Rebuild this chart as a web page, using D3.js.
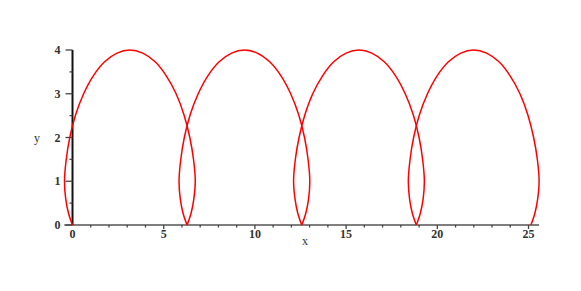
<!DOCTYPE html>
<html>
<head>
<meta charset="utf-8">
<script src="https://cdn.jsdelivr.net/npm/d3@7"></script>
<style>
  body { margin: 0; background: #fff; }
  svg { display: block; }
</style>
</head>
<body>
<svg></svg>
<script>
// points, one list per arch
const archX1 = [0, -0.22, -0.37, -0.44, -0.35, -0.15, 0.17, 0.61, 1.14, 1.76, 2.44, 3.14,
  3.85, 4.53, 5.14, 5.68, 6.11, 6.43, 6.64, 6.73, 6.65, 6.50, 6.28]
const archX2 = [6.28, 6.06, 5.91, 5.84, 5.93, 6.13, 6.45, 6.89, 7.42, 8.04, 8.72, 9.42,
  10.13, 10.81, 11.43, 11.96, 12.40, 12.72, 12.92, 13.01, 12.94, 12.79, 12.57]
const archX3 = [12.57, 12.35, 12.20, 12.12, 12.21, 12.42, 12.74, 13.17, 13.71, 14.32, 15.00, 15.71,
  16.41, 17.09, 17.71, 18.24, 18.68, 19.00, 19.20, 19.29, 19.22, 19.07, 18.85]
const archX4 = [18.85, 18.63, 18.48, 18.41, 18.50, 18.70, 19.02, 19.46, 19.99, 20.61, 21.29, 21.99,
  22.70, 23.38, 23.99, 24.53, 24.96, 25.28, 25.49, 25.58, 25.50, 25.35, 25.13]
const archY = [0, 0.27, 0.59, 1.0, 1.48, 2.0, 2.52, 3.0, 3.41, 3.73, 3.93, 4.0,
  3.93, 3.73, 3.41, 3.0, 2.52, 2.0, 1.48, 1.0, 0.59, 0.27, 0]

const xTickLabels = [0, 5, 10, 15, 20, 25]
const yTickLabels = [0, 1, 2, 3, 4]

const width = 581
const height = 291

const svg = d3.select('svg')
  .attr('width', width)
  .attr('height', height)

const x = d3.scaleLinear().domain([-0.45, 25.58]).range([64.3, 539.1])
const y = d3.scaleLinear().domain([0, 4]).range([225, 50])

const font = '"Liberation Serif", "DejaVu Serif", serif'

// x axis
svg.append('line')
  .attr('x1', x.range()[0]).attr('x2', x.range()[1])
  .attr('y1', y(0)).attr('y2', y(0))
  .attr('stroke', '#555').attr('stroke-width', 1.5)

const xMinor = d3.range(1, 26)
svg.selectAll('line.xminor')
  .data(xMinor)
  .join('line')
  .attr('class', 'xminor')
  .attr('x1', d => x(d)).attr('x2', d => x(d))
  .attr('y1', y(0)).attr('y2', d => y(0) + (d % 5 === 0 ? 4 : 2.5))
  .attr('stroke', '#444').attr('stroke-width', 1.3)

svg.selectAll('text.xlab')
  .data(xTickLabels)
  .join('text')
  .attr('class', 'xlab')
  .attr('x', d => x(d))
  .attr('y', y(0) + 13)
  .attr('text-anchor', 'middle')
  .attr('font-family', font)
  .attr('font-size', 12)
  .attr('font-weight', 'bold')
  .attr('fill', '#333')
  .text(d => d)

svg.append('text')
  .attr('x', 305).attr('y', 245)
  .attr('text-anchor', 'middle')
  .attr('font-family', font)
  .attr('font-size', 12)
  .attr('fill', '#333')
  .text('x')

// y axis
svg.append('line')
  .attr('x1', x(0)).attr('x2', x(0))
  .attr('y1', y(0)).attr('y2', y(4))
  .attr('stroke', '#111').attr('stroke-width', 2)

svg.selectAll('line.ymajor')
  .data(yTickLabels)
  .join('line')
  .attr('class', 'ymajor')
  .attr('x1', x(0) - 7).attr('x2', x(0))
  .attr('y1', d => y(d)).attr('y2', d => y(d))
  .attr('stroke', '#444').attr('stroke-width', 1.3)

svg.selectAll('line.yminor')
  .data([0.5, 1.5, 2.5, 3.5])
  .join('line')
  .attr('class', 'yminor')
  .attr('x1', x(0) - 3).attr('x2', x(0))
  .attr('y1', d => y(d)).attr('y2', d => y(d))
  .attr('stroke', '#444').attr('stroke-width', 1.3)

svg.selectAll('text.ylab')
  .data(yTickLabels)
  .join('text')
  .attr('class', 'ylab')
  .attr('x', x(0) - 12)
  .attr('y', d => y(d) + 4)
  .attr('text-anchor', 'end')
  .attr('font-family', font)
  .attr('font-size', 12)
  .attr('font-weight', 'bold')
  .attr('fill', '#333')
  .text(d => d)

svg.append('text')
  .attr('x', 37).attr('y', 142)
  .attr('text-anchor', 'middle')
  .attr('font-family', font)
  .attr('font-size', 12)
  .attr('fill', '#333')
  .text('y')

// curve
const arches = [archX1, archX2, archX3, archX4]
const line = d3.line()
  .x(d => x(d[0]))
  .y(d => y(d[1]))
  .curve(d3.curveCatmullRom.alpha(0.5))

svg.selectAll('path.arch')
  .data(arches.map(xs => xs.map((v, i) => [v, archY[i]])))
  .join('path')
  .attr('class', 'arch')
  .attr('d', line)
  .attr('fill', 'none')
  .attr('stroke', '#ff0000')
  .attr('stroke-width', 1.5)
</script>
</body>
</html>
